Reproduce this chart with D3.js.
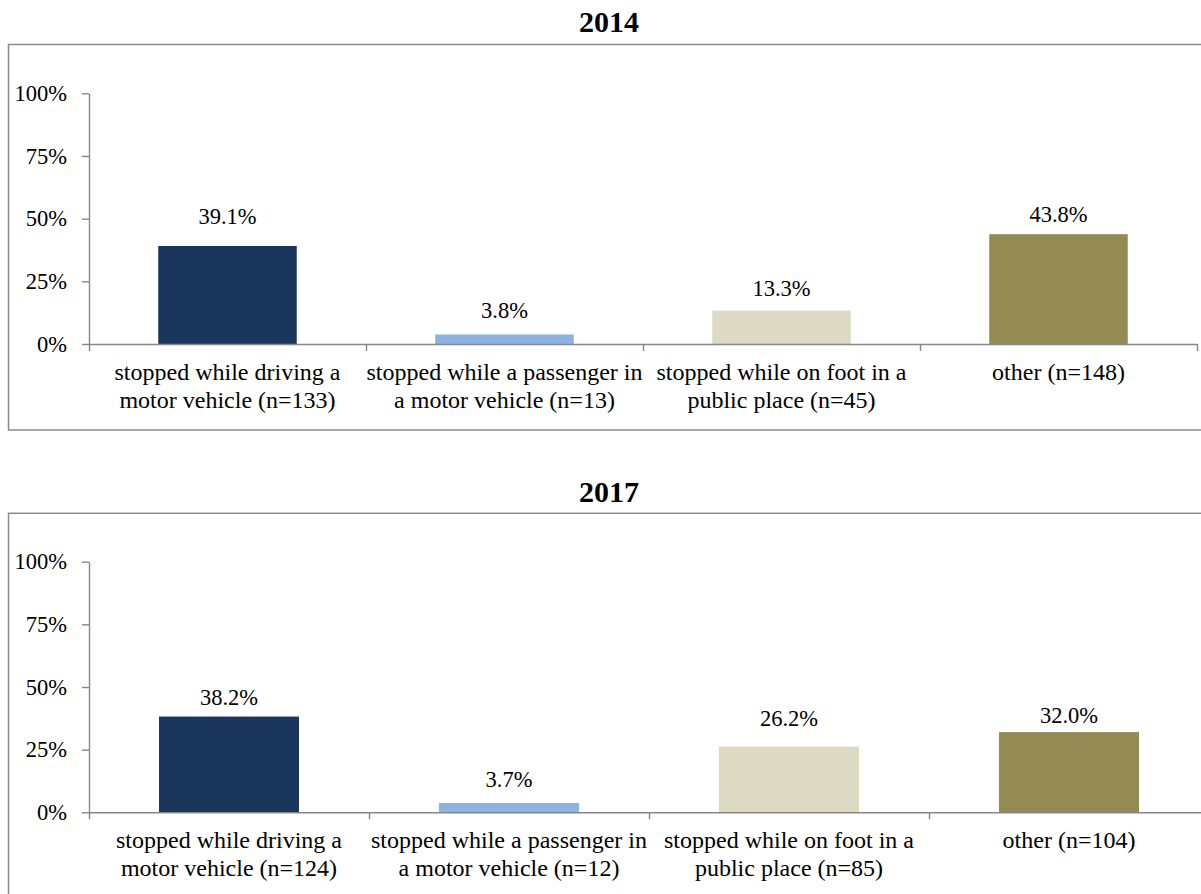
<!DOCTYPE html>
<html>
<head>
<meta charset="utf-8">
<script src="https://cdn.jsdelivr.net/npm/d3@7"></script>
<style>
  body { margin: 0; background: #fff; }
  svg { display: block; }
  text { font-family: "Liberation Serif", "Times New Roman", serif; fill: #000; }
</style>
</head>
<body>
<svg id="chart" width="1201" height="894"></svg>
<script>
// ---------- data ----------
const years = ["2014", "2017"];
const categoryLines = [
  ["stopped while driving a", "motor vehicle"],
  ["stopped while a passenger in", "a motor vehicle"],
  ["stopped while on foot in a", "public place"],
  ["other", ""]
];
const counts2014 = [133, 13, 45, 148];
const counts2017 = [124, 12, 85, 104];
const values2014 = [39.1, 3.8, 13.3, 43.8];
const values2017 = [38.2, 3.7, 26.2, 32.0];
const yTicks = [0, 25, 50, 75, 100];

// ---------- layout / style ----------
const colors = ["#1a365d", "#8db3e2", "#ddd9c3", "#948a54"];
const panels = [
  { year: years[0], values: values2014, counts: counts2014, titleY: 31.7,
    frame: { x: 8.5, y: 44.5, w: 1210, h: 385.5 },
    plot: { left: 89, right: 1197, top: 93.3, bottom: 344 },
    labelGap: [22, 16, 15, 12] },
  { year: years[1], values: values2017, counts: counts2017, titleY: 501.7,
    frame: { x: 8.5, y: 513.3, w: 1210, h: 420 },
    plot: { left: 89, right: 1209, top: 561.7, bottom: 812.3 },
    labelGap: [12, 16, 21, 9] }
];
const axisColor = "#878787";

const svg = d3.select("#chart");

panels.forEach(p => {
  const g = svg.append("g");

  // frame
  g.append("rect")
    .attr("x", p.frame.x).attr("y", p.frame.y)
    .attr("width", p.frame.w).attr("height", p.frame.h)
    .attr("fill", "none").attr("stroke", "#8a8a8a").attr("stroke-width", 1.5);

  // title
  g.append("text")
    .attr("x", 609).attr("y", p.titleY)
    .attr("text-anchor", "middle")
    .style("font-size", "30px").style("font-weight", "bold")
    .text(p.year);

  const n = p.values.length;
  const x = d3.scaleBand()
    .domain(d3.range(n))
    .range([p.plot.left, p.plot.right])
    .paddingInner(0.5).paddingOuter(0.25);
  const xEdges = d3.scaleLinear().domain([0, n]).range([p.plot.left, p.plot.right]);
  const y = d3.scaleLinear().domain([0, 100]).range([p.plot.bottom, p.plot.top]);

  // bars
  g.selectAll("rect.bar").data(p.values).join("rect")
    .attr("class", "bar")
    .attr("x", (d, i) => x(i))
    .attr("width", x.bandwidth())
    .attr("y", d => y(d))
    .attr("height", d => y(0) - y(d))
    .attr("fill", (d, i) => colors[i]);

  // value labels
  g.selectAll("text.val").data(p.values).join("text")
    .attr("class", "val")
    .attr("x", (d, i) => x(i) + x.bandwidth() / 2)
    .attr("y", (d, i) => y(d) - p.labelGap[i])
    .attr("text-anchor", "middle")
    .style("font-size", "22.5px")
    .text(d => d.toFixed(1) + "%");

  // y axis
  const yAxis = g.append("g")
    .attr("transform", `translate(${p.plot.left},0)`)
    .call(d3.axisLeft(y).tickValues(yTicks).tickFormat(d => d + "%")
      .tickSize(7).tickPadding(15).tickSizeOuter(0));
  yAxis.select(".domain").attr("stroke", axisColor).attr("stroke-width", 1.4);
  yAxis.selectAll(".tick line").attr("stroke", axisColor).attr("stroke-width", 1.4);
  yAxis.selectAll(".tick text")
    .style("font-size", "22.5px").style("font-family", "Liberation Serif, serif")
    .attr("fill", "#000");

  // x axis (ticks at category boundaries)
  const xAxis = g.append("g")
    .attr("transform", `translate(0,${p.plot.bottom})`)
    .call(d3.axisBottom(xEdges).tickValues(d3.range(n + 1)).tickFormat("")
      .tickSize(7).tickSizeOuter(0));
  xAxis.select(".domain").attr("stroke", axisColor).attr("stroke-width", 1.4);
  xAxis.selectAll(".tick line").attr("stroke", axisColor).attr("stroke-width", 1.4);

  // category labels
  const cat = g.selectAll("text.cat").data(categoryLines).join("text")
    .attr("class", "cat")
    .attr("text-anchor", "middle")
    .style("font-size", "24px");
  cat.each(function(lines, i) {
    const t = d3.select(this);
    const cx = x(i) + x.bandwidth() / 2;
    const cnt = "(n=" + p.counts[i] + ")";
    const l1 = lines[1] === "" ? lines[0] + " " + cnt : lines[0];
    t.append("tspan").attr("x", cx).attr("y", p.plot.bottom + 36).text(l1);
    if (lines[1] !== "") {
      t.append("tspan").attr("x", cx).attr("y", p.plot.bottom + 64)
        .text(lines[1] + " " + cnt);
    }
  });
});
</script>
</body>
</html>
